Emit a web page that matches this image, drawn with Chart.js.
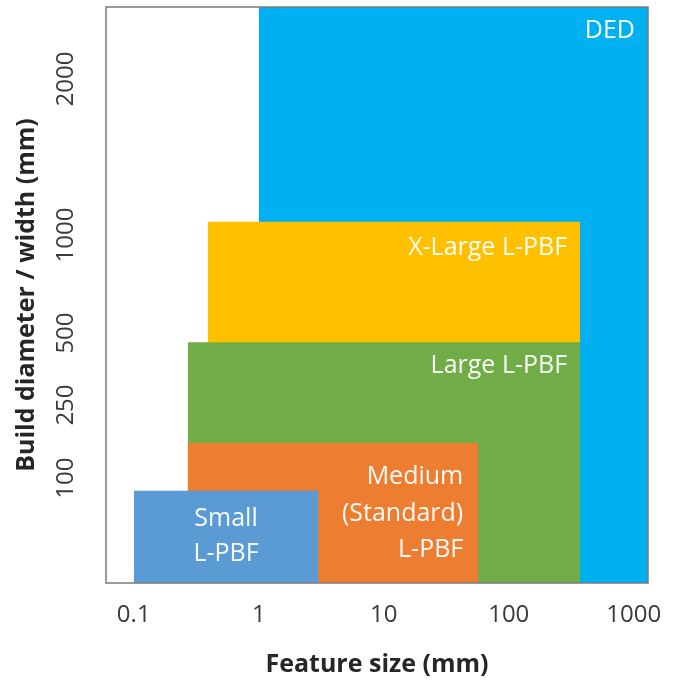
<!DOCTYPE html>
<html>
<head>
<meta charset="utf-8">
<script src="https://cdn.jsdelivr.net/npm/chart.js@4/dist/chart.umd.min.js"></script>
<style>
  html, body { margin: 0; padding: 0; background: #ffffff; }
  #wrap { width: 674px; height: 683px; position: relative; }
</style>
</head>
<body>
<div id="wrap"><canvas id="c" width="674" height="683"></canvas></div>
<script>
// ---- data ----
const xTickValues = [0.1, 1, 10, 100, 1000];
const xTickLabels = ['0.1', '1', '10', '100', '1000'];
// y axis is schematic (not proportional): positions on a 0-100 relative scale
const yTickPositions = [18.2, 30.9, 43.4, 60.4, 87.5];
const yTickLabels = ['100', '250', '500', '1000', '2000'];

const boxNames = ['DED', 'X-Large L-PBF', 'Large L-PBF', 'Medium (Standard) L-PBF', 'Small L-PBF'];
const boxFeatureMin = [1, 0.39, 0.27, 0.27, 0.1];
const boxFeatureMax = [1300, 372, 372, 57, 3];
const boxBuildTop = [100, 62.7, 41.8, 24.3, 16.0];
const boxLabelLines = [['DED'], ['X-Large L-PBF'], ['Large L-PBF'], ['Medium', '(Standard)', 'L-PBF'], ['Small', 'L-PBF']];

// ---- styling ----
const boxColors = ['#00B0F0', '#FFC000', '#70AD47', '#ED7D31', '#5B9BD5'];
const labelStyle = [
  { align: 'right', padX: 13, firstY: 24, lineGap: 36 },
  { align: 'right', padX: 13, firstY: 26, lineGap: 36 },
  { align: 'right', padX: 13, firstY: 24, lineGap: 36 },
  { align: 'right', padX: 15, firstY: 34, lineGap: 36.5 },
  { align: 'center', padX: 0, firstY: 28, lineGap: 35 }
];
const FONT = '"Open Sans", "Noto Sans", sans-serif';

const datasets = boxNames.map((name, i) => ({
  label: name,
  data: [{ x: boxFeatureMin[i], y: boxBuildTop[i] }, { x: boxFeatureMax[i], y: boxBuildTop[i] }],
  borderColor: 'rgba(0,0,0,0)',
  borderWidth: 0,
  pointRadius: 0,
  fill: 'origin',
  backgroundColor: boxColors[i],
  order: boxNames.length - i,
  tension: 0
}));

const boxLabelPlugin = {
  id: 'boxLabels',
  afterDatasetsDraw(chart) {
    const { ctx, scales: { x, y } } = chart;
    ctx.save();
    ctx.font = '25px ' + FONT;
    ctx.fillStyle = 'rgba(255,255,255,0.96)';
    ctx.textBaseline = 'middle';
    boxNames.forEach((n, i) => {
      const st = labelStyle[i];
      const x0 = x.getPixelForValue(boxFeatureMin[i]);
      const x1 = Math.min(x.getPixelForValue(boxFeatureMax[i]), chart.chartArea.right);
      const yt = Math.max(y.getPixelForValue(boxBuildTop[i]), chart.chartArea.top);
      let tx;
      if (st.align === 'right') { ctx.textAlign = 'right'; tx = x1 - st.padX; }
      else { ctx.textAlign = 'center'; tx = (x0 + x1) / 2; }
      boxLabelLines[i].forEach((line, k) => {
        ctx.fillText(line, tx, yt + st.firstY + k * st.lineGap);
      });
    });
    ctx.restore();
  }
};

const framePlugin = {
  id: 'frame',
  afterDatasetsDraw(chart) {
    const { ctx, chartArea: a } = chart;
    ctx.save();
    ctx.strokeStyle = '#7a7a7a';
    ctx.lineWidth = 1.5;
    ctx.strokeRect(a.left, a.top, a.right - a.left, a.bottom - a.top);
    ctx.restore();
  }
};

new Chart(document.getElementById('c'), {
  type: 'line',
  data: { datasets },
  options: {
    responsive: false,
    animation: false,
    layout: { padding: { left: 0, right: 26, top: 7, bottom: 0 } },
    plugins: { legend: { display: false }, tooltip: { enabled: false } },
    scales: {
      x: {
        type: 'logarithmic',
        min: 0.06,
        max: 1300,
        grid: { display: false, drawTicks: false },
        border: { display: false },
        afterBuildTicks(scale) { scale.ticks = xTickValues.map(v => ({ value: v })); },
        afterFit(scale) {
          scale.height = 100;
          scale.paddingLeft = 0; scale.paddingRight = 0;
          scale.paddingTop = 0; scale.paddingBottom = 0;
        },
        ticks: {
          autoSkip: false,
          maxRotation: 0,
          minRotation: 0,
          padding: 18,
          color: '#3a3a3a',
          font: { family: FONT, size: 24 },
          callback(value) {
            const idx = xTickValues.indexOf(value);
            return idx >= 0 ? xTickLabels[idx] : '';
          }
        },
        title: {
          display: true,
          text: 'Feature size (mm)',
          color: '#262626',
          font: { family: FONT, size: 25, weight: 'bold' },
          padding: { top: 0, bottom: 3 }
        }
      },
      y: {
        type: 'linear',
        min: 0,
        max: 100,
        grid: { display: false, drawTicks: false },
        border: { display: false },
        afterBuildTicks(scale) { scale.ticks = yTickPositions.map(v => ({ value: v })); },
        afterFit(scale) {
          scale.width = 106;
          scale.paddingLeft = 0; scale.paddingRight = 0;
          scale.paddingTop = 0; scale.paddingBottom = 0;
        },
        ticks: {
          autoSkip: false,
          minRotation: 90,
          maxRotation: 90,
          crossAlign: 'center',
          padding: 12,
          color: '#3a3a3a',
          font: { family: FONT, size: 24 },
          callback(value) {
            const idx = yTickPositions.indexOf(value);
            return idx >= 0 ? yTickLabels[idx] : '';
          }
        },
        title: {
          display: true,
          text: 'Build diameter / width (mm)',
          color: '#262626',
          font: { family: FONT, size: 25, weight: 'bold' },
          padding: { top: 12, bottom: 0 }
        }
      }
    }
  },
  plugins: [boxLabelPlugin, framePlugin]
});
</script>
</body>
</html>
